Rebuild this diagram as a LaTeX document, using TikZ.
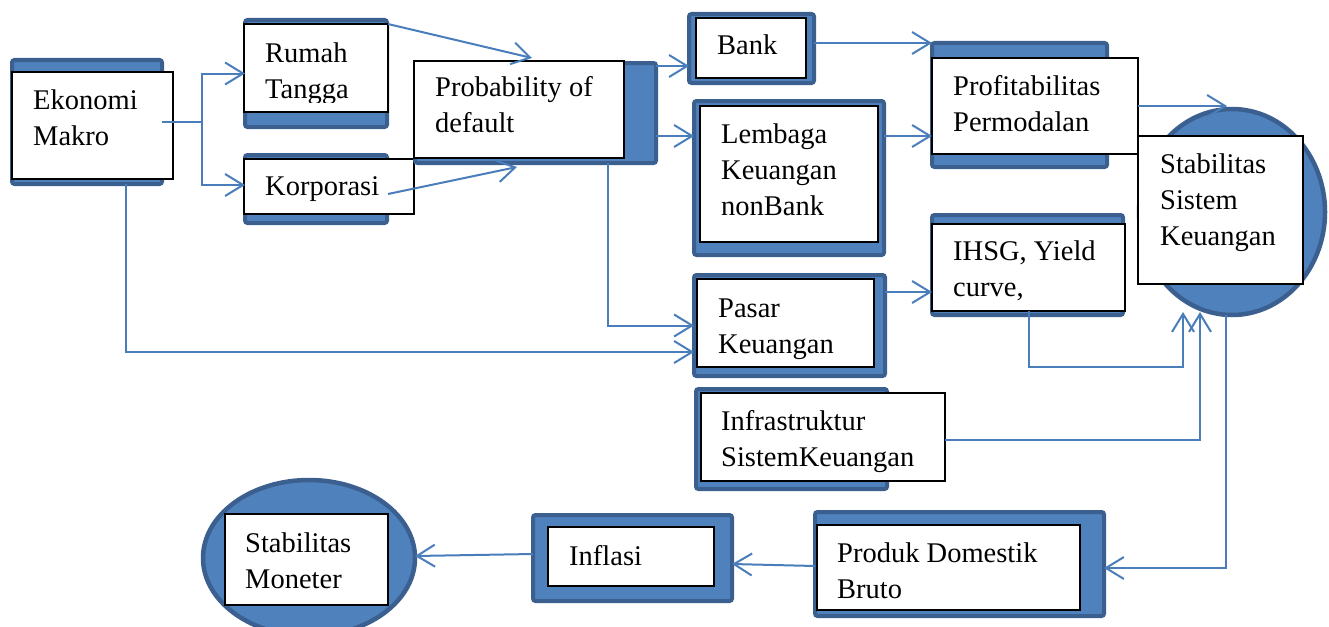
\documentclass[tikz,border=0pt]{standalone}
\usepackage{fontspec}
\setmainfont{Liberation Serif}
\usetikzlibrary{shapes.geometric,arrows.meta,calc}
\definecolor{bfill}{HTML}{4F81BD}
\definecolor{bdraw}{HTML}{3B6090}
\definecolor{conncol}{HTML}{4A7EBB}
\tikzset{
 bluebox/.style={draw=bdraw, fill=bfill, line width=4pt, rounded corners=2.5pt, inner sep=0, outer sep=0, anchor=north west},
 whitebox/.style={draw=black, fill=white, line width=1.2pt, inner sep=0, outer sep=0, anchor=north west},
 blueell/.style={ellipse, draw=bdraw, fill=bfill, line width=4.5pt, inner sep=0, outer sep=0},
 txt/.style={anchor=north west, inner sep=0, align=left, font=\fontsize{28.5}{36}\selectfont},
 link/.style={draw=conncol, line width=2pt},
 arr/.style={link, -{Straight Barb[length=18pt,width=22pt]}},
}
\begin{document}
\begin{tikzpicture}[x=1pt,y=-1pt]
\useasboundingbox[fill=white] (0,0) rectangle (1329,626);
% Ekonomi Makro
\node[bluebox, minimum width=150, minimum height=124] (ekB) at (12,60) {};
\node[whitebox, minimum width=161, minimum height=107] (ekW) at (12,72) {};
\node[txt] (ekT) at (33,83.8) {\strut Ekonomi\\Makro};
% Rumah Tangga
\node[bluebox, minimum width=142, minimum height=107] (rbB) at (245,20) {};
\node[whitebox, minimum width=144, minimum height=88] (rwW) at (244,24) {};
\begin{scope}
\clip (244,24) rectangle (388,102);
\node[txt] (rwT) at (265,36.8) {\strut Rumah\\Tangga};
\end{scope}
% Korporasi
\node[bluebox, minimum width=142, minimum height=68] (kbB) at (245,155) {};
\node[whitebox, minimum width=170, minimum height=55] (kwW) at (244,159) {};
\node[txt] (kwT) at (265,169.8) {\strut Korporasi};
% Probability of default
\node[bluebox, minimum width=241, minimum height=100] (pbB) at (415,63) {};
\node[whitebox, minimum width=210, minimum height=97] (pbW) at (414,61) {};
\node[txt] (pbT) at (435,70.8) {\strut Probability of\\default};
% Bank
\node[bluebox, minimum width=125, minimum height=69] (bkB) at (689,14) {};
\node[whitebox, minimum width=110, minimum height=60] (bkW) at (696,18) {};
\node[txt] (bkT) at (717,28.8) {\strut Bank};
% Lembaga Keuangan nonBank
\node[bluebox, minimum width=190, minimum height=154] (lbB) at (694,101) {};
\node[whitebox, minimum width=178, minimum height=136] (lbW) at (700,106) {};
\node[txt] (lbT) at (721,117.8) {\strut Lembaga\\Keuangan\\nonBank};
% Profitabilitas Permodalan
\node[bluebox, minimum width=175, minimum height=124] (pfB) at (932,43) {};
\node[whitebox, minimum width=206, minimum height=96] (pfW) at (932,58) {};
\node[txt] (pfT) at (953,69.8) {\strut Profitabilitas\\Permodalan};
% IHSG
\node[bluebox, minimum width=191, minimum height=100] (ihB) at (932,215) {};
\node[whitebox, minimum width=193, minimum height=87] (ihW) at (932,224) {};
\node[txt] (ihT) at (953,234.8) {\strut IHSG, Yield\\curve,};
% Stabilitas Sistem Keuangan
\node[blueell, minimum width=186, minimum height=206] (sskE) at (1232,212) {};
\node[whitebox, minimum width=165, minimum height=148] (sskW) at (1138,136) {};
\node[txt] (sskT) at (1160,147.8) {\strut Stabilitas\\Sistem\\Keuangan};
% Pasar Keuangan
\node[bluebox, minimum width=191, minimum height=101] (psB) at (694,275) {};
\node[whitebox, minimum width=177, minimum height=88] (psW) at (697,279) {};
\node[txt] (psT) at (718,291.8) {\strut Pasar\\Keuangan};
% Infrastruktur
\node[bluebox, minimum width=191, minimum height=100] (ifB) at (696,389) {};
\node[whitebox, minimum width=244, minimum height=88] (ifW) at (701,393) {};
\node[txt] (ifT) at (721,404.8) {\strut Infrastruktur\\SistemKeuangan};
% Produk Domestik Bruto
\node[bluebox, minimum width=289, minimum height=104] (pdB) at (815,512) {};
\node[whitebox, minimum width=263, minimum height=85] (pdW) at (817,525) {};
\node[txt] (pdT) at (837,536.8) {\strut Produk Domestik\\Bruto};
% Inflasi
\node[bluebox, minimum width=199, minimum height=86] (inB) at (533,515) {};
\node[whitebox, minimum width=166, minimum height=59] (inW) at (548,527) {};
\node[txt] (inT) at (569,539.8) {\strut Inflasi};
% Stabilitas Moneter
\node[blueell, minimum width=212, minimum height=156] (smE) at (309,558) {};
\node[whitebox, minimum width=163, minimum height=91] (smW) at (225,514) {};
\node[txt] (smT) at (245,526.8) {\strut Stabilitas\\Moneter};
% connectors
\draw[link] ($(ekW.east)+(-11,-3.5)$) -- ++(40,0) coordinate (ekj);
\draw[arr] (ekj) |- (rbB.west);
\draw[arr] (ekj) |- ($(kbB.west)+(0,-4)$);
\draw[arr] ($(ekB.south)+(39,0)$) |- ($(psB.west)+(0,26.5)$);
\draw[arr] (rwW.north east) -- ($(pbW.north)+(13,-3)$);
\draw[arr] ($(kwW.east)+(-26,7.5)$) -- ($(pbB.south)+(-18.5,4)$);
\draw[arr] ($(pbB.north east)+(0,3)$) coordinate (p1) -- (p1 -| bkB.west);
\draw[arr] ($(pbB.north east)+(0,73)$) coordinate (p2) -- (p2 -| lbB.west);
\draw[arr] ($(pbB.south)+(72.5,0)$) |- (psB.west);
\draw[arr] ($(bkB.east)+(0,-5.5)$) coordinate (b1) -- (b1 -| pfB.west);
\draw[arr] ($(lbB.east)+(0,-42)$) coordinate (l1) -- (l1 -| pfB.west);
\draw[arr] (pfW.east) -- ($(pfW.east -| sskE.north)+(-5,0)$);
\draw[arr] ($(psB.east)+(0,-33.5)$) coordinate (s1) -- (s1 -| ihW.west);
\draw[arr] (ihW.south) -- ++(0,56) -| ($(sskE.south)+(-49,-3)$);
\draw[arr] ($(ifW.east)+(0,3)$) -| ($(sskE.south)+(-32,-3)$);
\draw[arr] ($(sskE.south)+(-6,0)$) |- ($(pdB.east)+(0,4)$);
\draw[arr] ($(pdB.west)+(0,2)$) -- ($(inB.east)+(0,6)$);
\draw[arr] ($(inB.west)+(0,-4)$) -- ($(smE.east)+(0,-2)$);
\end{tikzpicture}
\end{document}
